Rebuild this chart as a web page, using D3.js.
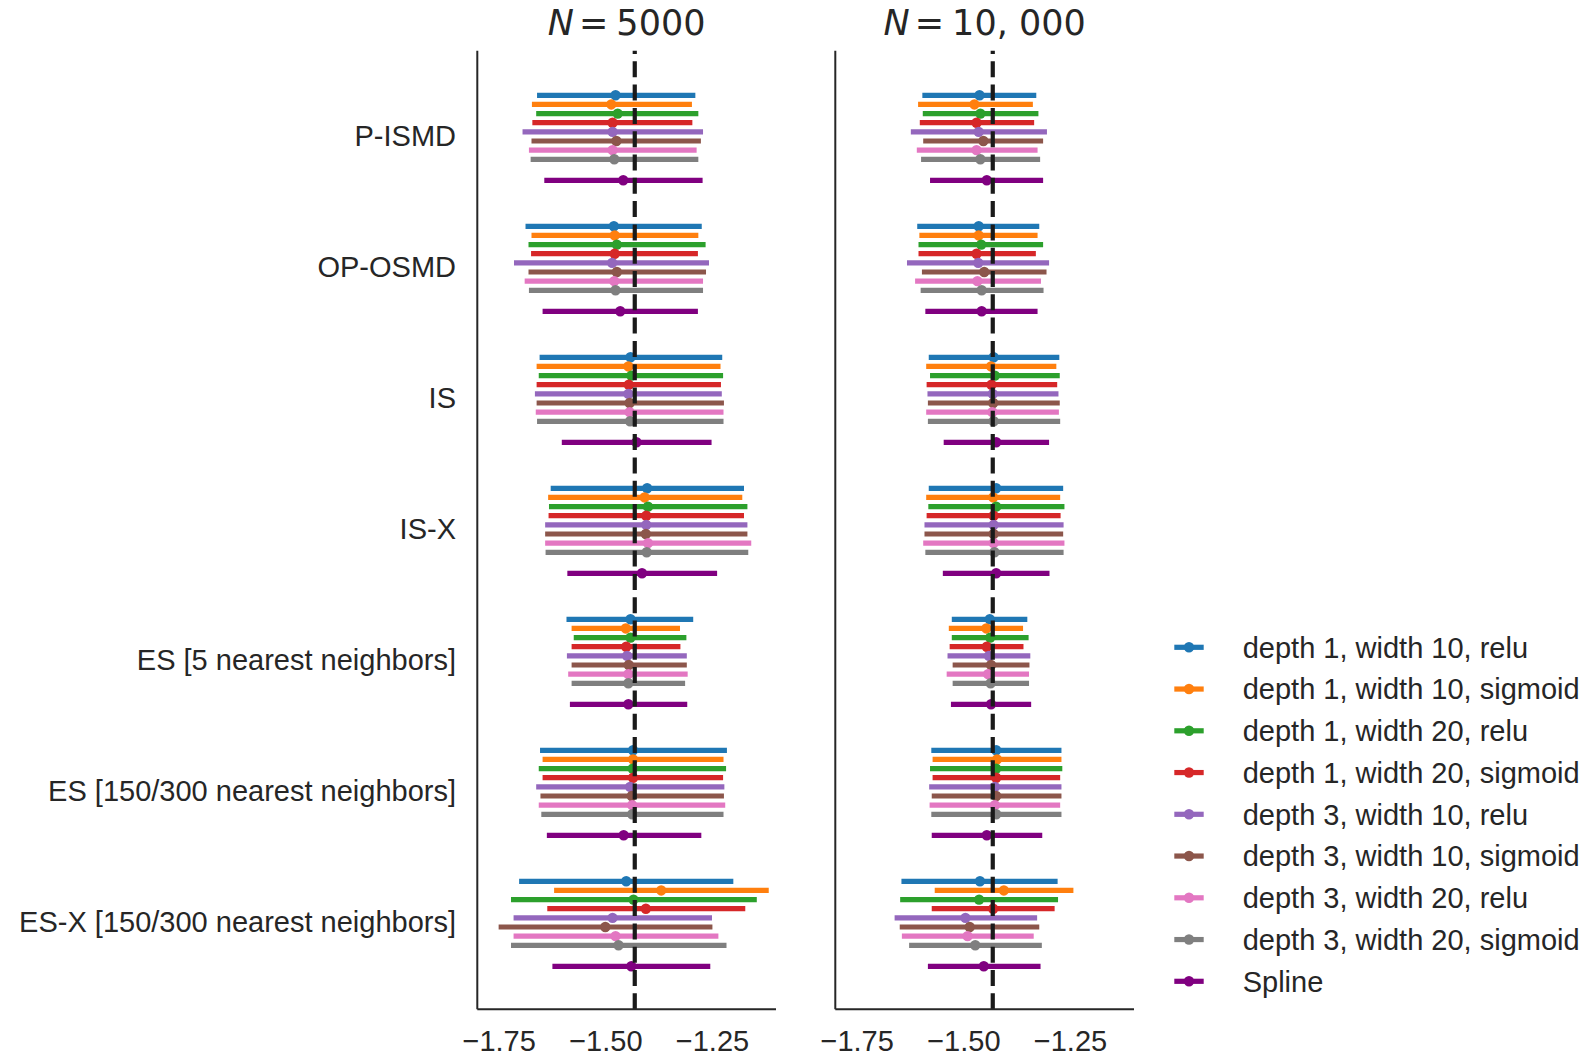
<!DOCTYPE html>
<html>
<head>
<meta charset="utf-8">
<script src="https://cdn.jsdelivr.net/npm/d3@7"></script>
<style>
  html, body { margin: 0; padding: 0; background: #ffffff; }
  svg { display: block; }
</style>
</head>
<body>
<svg id="chart" width="1595" height="1056"></svg>
<script>
// ---------------- DATA ----------------
const groups = [
  "P-ISMD",
  "OP-OSMD",
  "IS",
  "IS-X",
  "ES [5 nearest neighbors]",
  "ES [150/300 nearest neighbors]",
  "ES-X [150/300 nearest neighbors]"
];
const seriesNames = [
  "depth 1, width 10, relu",
  "depth 1, width 10, sigmoid",
  "depth 1, width 20, relu",
  "depth 1, width 20, sigmoid",
  "depth 3, width 10, relu",
  "depth 3, width 10, sigmoid",
  "depth 3, width 20, relu",
  "depth 3, width 20, sigmoid",
  "Spline"
];
const seriesColors = ["#1f77b4","#ff7f0e","#2ca02c","#d62728","#9467bd","#8c564b","#e377c2","#7f7f7f","#800080"];
const panelTitles = ["5000", "10, 000"];
const xTicks = [-1.75, -1.50, -1.25];
const xDomain = [-1.8, -1.1];
const referenceValue = -1.431;

// N = 5000 : per group, per series
const est5000 = [
  [-1.476,-1.486,-1.471,-1.483,-1.483,-1.474,-1.483,-1.479,-1.458],
  [-1.480,-1.478,-1.473,-1.478,-1.484,-1.473,-1.479,-1.476,-1.465],
  [-1.441,-1.446,-1.439,-1.445,-1.446,-1.443,-1.443,-1.442,-1.427],
  [-1.402,-1.408,-1.400,-1.404,-1.404,-1.405,-1.400,-1.403,-1.414],
  [-1.441,-1.452,-1.441,-1.451,-1.449,-1.445,-1.446,-1.446,-1.446],
  [-1.435,-1.435,-1.436,-1.435,-1.442,-1.438,-1.437,-1.437,-1.457],
  [-1.451,-1.369,-1.434,-1.405,-1.483,-1.500,-1.476,-1.469,-1.439]
];
const lo5000 = [
  [-1.660,-1.672,-1.662,-1.671,-1.694,-1.673,-1.679,-1.675,-1.643],
  [-1.687,-1.673,-1.680,-1.674,-1.714,-1.680,-1.689,-1.679,-1.647],
  [-1.654,-1.661,-1.656,-1.661,-1.665,-1.661,-1.663,-1.660,-1.602],
  [-1.628,-1.634,-1.632,-1.633,-1.641,-1.641,-1.641,-1.640,-1.589],
  [-1.591,-1.579,-1.574,-1.579,-1.590,-1.579,-1.587,-1.579,-1.583],
  [-1.653,-1.647,-1.656,-1.647,-1.662,-1.652,-1.656,-1.650,-1.637],
  [-1.702,-1.620,-1.721,-1.636,-1.715,-1.750,-1.715,-1.721,-1.624]
];
const hi5000 = [
  [-1.289,-1.297,-1.282,-1.296,-1.271,-1.276,-1.286,-1.282,-1.272],
  [-1.274,-1.282,-1.265,-1.283,-1.257,-1.264,-1.271,-1.271,-1.283],
  [-1.226,-1.230,-1.224,-1.229,-1.227,-1.222,-1.223,-1.223,-1.251],
  [-1.175,-1.179,-1.167,-1.175,-1.167,-1.167,-1.158,-1.165,-1.238],
  [-1.294,-1.325,-1.310,-1.324,-1.309,-1.309,-1.307,-1.313,-1.308],
  [-1.215,-1.223,-1.217,-1.224,-1.221,-1.222,-1.219,-1.223,-1.275],
  [-1.200,-1.117,-1.145,-1.172,-1.250,-1.249,-1.235,-1.216,-1.254]
];

// N = 10,000
const est10000 = [
  [-1.462,-1.474,-1.460,-1.469,-1.464,-1.453,-1.469,-1.460,-1.445],
  [-1.464,-1.464,-1.458,-1.469,-1.465,-1.451,-1.467,-1.457,-1.457],
  [-1.429,-1.435,-1.426,-1.434,-1.431,-1.430,-1.432,-1.429,-1.423],
  [-1.423,-1.430,-1.423,-1.429,-1.429,-1.429,-1.429,-1.427,-1.423],
  [-1.438,-1.446,-1.437,-1.445,-1.440,-1.435,-1.442,-1.436,-1.435],
  [-1.423,-1.421,-1.423,-1.423,-1.426,-1.423,-1.426,-1.423,-1.445],
  [-1.461,-1.405,-1.463,-1.430,-1.495,-1.485,-1.490,-1.472,-1.452]
];
const lo10000 = [
  [-1.596,-1.606,-1.595,-1.602,-1.623,-1.594,-1.609,-1.599,-1.578],
  [-1.608,-1.603,-1.605,-1.605,-1.632,-1.597,-1.613,-1.600,-1.589],
  [-1.581,-1.587,-1.578,-1.586,-1.584,-1.583,-1.587,-1.583,-1.546],
  [-1.581,-1.587,-1.582,-1.586,-1.591,-1.591,-1.594,-1.589,-1.548],
  [-1.527,-1.534,-1.527,-1.532,-1.537,-1.525,-1.539,-1.525,-1.529],
  [-1.575,-1.572,-1.578,-1.572,-1.580,-1.574,-1.579,-1.575,-1.574],
  [-1.645,-1.567,-1.648,-1.574,-1.661,-1.649,-1.644,-1.627,-1.583]
];
const hi10000 = [
  [-1.329,-1.337,-1.324,-1.334,-1.304,-1.313,-1.326,-1.320,-1.313],
  [-1.322,-1.326,-1.313,-1.330,-1.299,-1.305,-1.318,-1.312,-1.326],
  [-1.275,-1.282,-1.274,-1.280,-1.277,-1.274,-1.276,-1.273,-1.299],
  [-1.266,-1.273,-1.263,-1.272,-1.265,-1.266,-1.263,-1.265,-1.298],
  [-1.350,-1.360,-1.347,-1.359,-1.343,-1.345,-1.346,-1.346,-1.341],
  [-1.270,-1.270,-1.268,-1.273,-1.270,-1.270,-1.273,-1.270,-1.315],
  [-1.279,-1.242,-1.278,-1.286,-1.327,-1.322,-1.335,-1.316,-1.319]
];

const panels = [
  { title: panelTitles[0], est: est5000, lo: lo5000, hi: hi5000 },
  { title: panelTitles[1], est: est10000, lo: lo10000, hi: hi10000 }
];

// ---------------- LAYOUT ----------------
const svg = d3.select("#chart");
const TEXT = "#262626";
const FONT = "'Liberation Sans', Arial, Helvetica, sans-serif";
const panelLeft = [477.3, 835.3];
const panelWidth = 298.7;
const plotTop = 50.7, plotBottom = 1009.3;

const yGroup = d3.scaleLinear().domain([0, groups.length - 1]).range([95.3, 95.3 + 6 * 131]);
const lineStep = 9.14;
const seriesOffset = i => (i < 8 ? i * lineStep : 85);
const labelOffset = 40.5;

panels.forEach((p, pi) => {
  const x = d3.scaleLinear().domain(xDomain).range([panelLeft[pi], panelLeft[pi] + panelWidth]);
  const g = svg.append("g");

  // error bars per series
  seriesNames.forEach((s, si) => {
    const sg = g.append("g");
    groups.forEach((grp, gi) => {
      const y = yGroup(gi) + seriesOffset(si);
      sg.append("line")
        .attr("x1", x(p.lo[gi][si])).attr("x2", x(p.hi[gi][si]))
        .attr("y1", y).attr("y2", y)
        .attr("stroke", seriesColors[si]).attr("stroke-width", 5.2);
      sg.append("circle")
        .attr("cx", x(p.est[gi][si])).attr("cy", y).attr("r", 5.2)
        .attr("fill", seriesColors[si]);
    });
  });

  // reference dashed line, pattern starting at the bottom
  g.append("line")
    .attr("x1", x(referenceValue)).attr("x2", x(referenceValue))
    .attr("y1", plotBottom).attr("y2", plotTop)
    .attr("stroke", "#1a1a1a").attr("stroke-width", 4.2)
    .attr("stroke-dasharray", "16,7.3");

  // spines
  g.append("line")
    .attr("x1", panelLeft[pi]).attr("x2", panelLeft[pi])
    .attr("y1", plotTop).attr("y2", plotBottom)
    .attr("stroke", TEXT).attr("stroke-width", 2);

  const xAxis = d3.axisBottom(x).tickValues(xTicks).tickSize(0).tickPadding(0)
    .tickFormat(d => d3.format(".2f")(d).replace("-", "\u2212"));
  const ax = g.append("g").attr("transform", `translate(0,${plotBottom})`).call(xAxis);
  ax.select(".domain").attr("stroke", TEXT).attr("stroke-width", 2)
    .attr("d", `M${panelLeft[pi]},0H${panelLeft[pi] + panelWidth}`);
  ax.selectAll("text")
    .attr("fill", TEXT).attr("font-family", FONT).attr("font-size", 29)
    .attr("dy", null).attr("y", 41.3);

  // title (math style: italic N)
  const t = svg.append("text")
    .attr("x", panelLeft[pi] + panelWidth / 2).attr("y", 35)
    .attr("text-anchor", "middle")
    .attr("font-family", "'DejaVu Sans', sans-serif").attr("font-size", 35)
    .attr("fill", TEXT);
  t.append("tspan").attr("font-style", "italic").text("N");
  t.append("tspan").attr("dx", 5).text("=");
  t.append("tspan").attr("dx", 8).text(p.title);
});

// category labels
svg.append("g").selectAll("text").data(groups).join("text")
  .attr("x", 456).attr("y", (d, i) => yGroup(i) + labelOffset + 10.4)
  .attr("text-anchor", "end")
  .attr("font-family", FONT).attr("font-size", 29).attr("fill", TEXT)
  .text(d => d);

// legend
const legend = svg.append("g");
const legendY = d3.scaleLinear().domain([0, seriesNames.length - 1]).range([647.3, 647.3 + 8 * 41.75]);
seriesNames.forEach((s, i) => {
  const y = legendY(i);
  legend.append("line").attr("x1", 1174.3).attr("x2", 1203.7).attr("y1", y).attr("y2", y)
    .attr("stroke", seriesColors[i]).attr("stroke-width", 5.2);
  legend.append("circle").attr("cx", 1189).attr("cy", y).attr("r", 5.2).attr("fill", seriesColors[i]);
  legend.append("text").attr("x", 1242.7).attr("y", y + 10.4)
    .attr("font-family", FONT).attr("font-size", 29).attr("fill", TEXT).text(s);
});
</script>
</body>
</html>
